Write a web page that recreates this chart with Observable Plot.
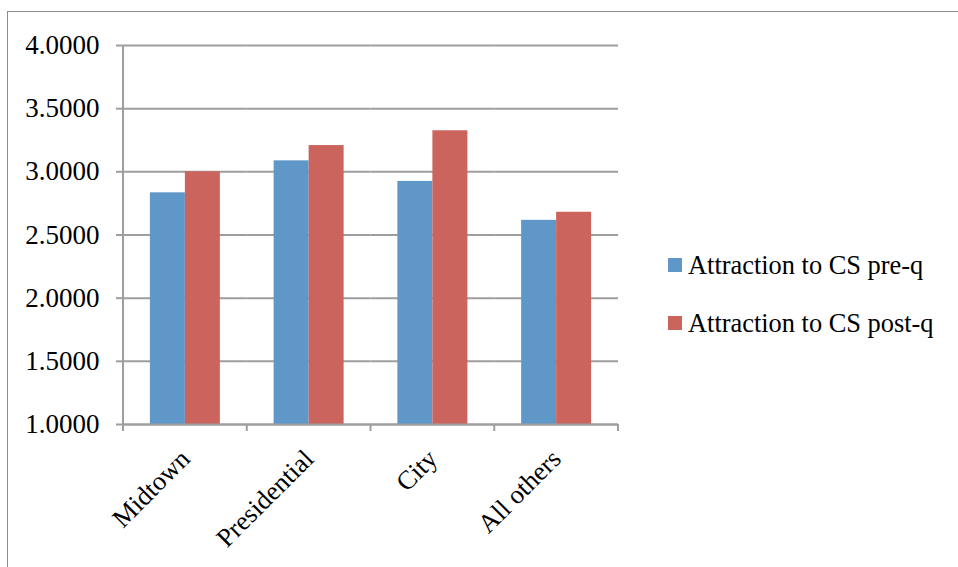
<!DOCTYPE html>
<html><head><meta charset="utf-8">
<script src="https://cdn.jsdelivr.net/npm/d3@7"></script>
<script src="https://cdn.jsdelivr.net/npm/@observablehq/plot@0.6"></script>
<style>
body{margin:0;background:#fff;}
#wrap{position:relative;width:958px;height:567px;overflow:hidden;font-family:'Liberation Serif', serif;}
#border{position:absolute;left:7px;top:11px;right:-10px;bottom:-10px;border-top:1.5px solid #8c8c8c;border-left:1.5px solid #8c8c8c;}
#chart{position:absolute;left:0;top:0;}
#chart svg, #chart svg text{font-family:'Liberation Serif', serif !important;}
#legend{position:absolute;left:668px;top:236px;font-size:26.4px;color:#000;font-family:'Liberation Serif', serif;}
.row{display:flex;align-items:center;height:58px;}
.sw{width:14px;height:14px;margin-right:6px;flex:none;}
</style></head><body>
<div id="wrap"><div id="border"></div><div id="chart"></div><div id="legend"></div></div>
<script>
const categories = ["Midtown", "Presidential", "City", "All others"];
const series = ["Attraction to CS pre-q", "Attraction to CS post-q"];
const preQ = [2.834, 3.087, 2.924, 2.616];
const postQ = [3.000, 3.208, 3.325, 2.680];
const yTicks = [1.0, 1.5, 2.0, 2.5, 3.0, 3.5, 4.0];
const colors = ["#6097c9", "#cc645e"];

const data = categories.flatMap((c, i) => [
  {category: c, series: series[0], value: preQ[i]},
  {category: c, series: series[1], value: postQ[i]}
]);

const gray = "#9e9e9e";
const serif = "'Liberation Serif', serif";
const plot = Plot.plot({
  width: 958, height: 567,
  marginTop: 45, marginBottom: 143, marginLeft: 123, marginRight: 340,
  style: {fontFamily: serif, fontSize: "26px", color: "#000", background: "transparent"},
  fx: {domain: categories, padding: 0, label: null, axis: null, round: false},
  x: {domain: series, paddingInner: 0, paddingOuter: 0.768, axis: null, round: false},
  y: {domain: [1, 4], axis: null},
  color: {domain: series, range: colors},
  marks: [
    Plot.gridY(yTicks, {stroke: gray, strokeOpacity: 1, strokeWidth: 2}),
    Plot.barY(data, {fx: "category", x: "series", y1: 1, y2: "value", fill: "series"}),
    Plot.axisY(yTicks, {tickFormat: d3.format(".4f"), tickSize: 7, tickPadding: 17, stroke: gray, strokeWidth: 2, label: null, fontSize: 27, fontFamily: serif}),
    Plot.axisFx({anchor: "bottom", tickRotate: -45, tickSize: 0, tickPadding: 30, fontSize: 26.4, fontFamily: serif, label: null}),
    Plot.ruleY([1], {stroke: gray, strokeWidth: 2})
  ]
});
document.getElementById("chart").appendChild(plot);

// y-axis line and category boundary ticks, placed with the plot's own scales
const fx = plot.scale("fx"), y = plot.scale("y");
const svg = d3.select(plot);
const edges = categories.map(c => fx.apply(c)).concat([fx.apply(categories[categories.length - 1]) + fx.bandwidth]);
const g = svg.append("g").attr("stroke", gray).attr("stroke-width", 2);
g.append("line").attr("x1", edges[0]).attr("x2", edges[0]).attr("y1", y.apply(4)).attr("y2", y.apply(1) + 7);
edges.forEach(e => g.append("line").attr("x1", e).attr("x2", e).attr("y1", y.apply(1)).attr("y2", y.apply(1) + 7));

const legend = d3.select("#legend");
series.forEach((s, i) => {
  const row = legend.append("div").attr("class", "row");
  row.append("div").attr("class", "sw").style("background", colors[i]);
  row.append("span").text(s);
});
</script>
</body></html>
